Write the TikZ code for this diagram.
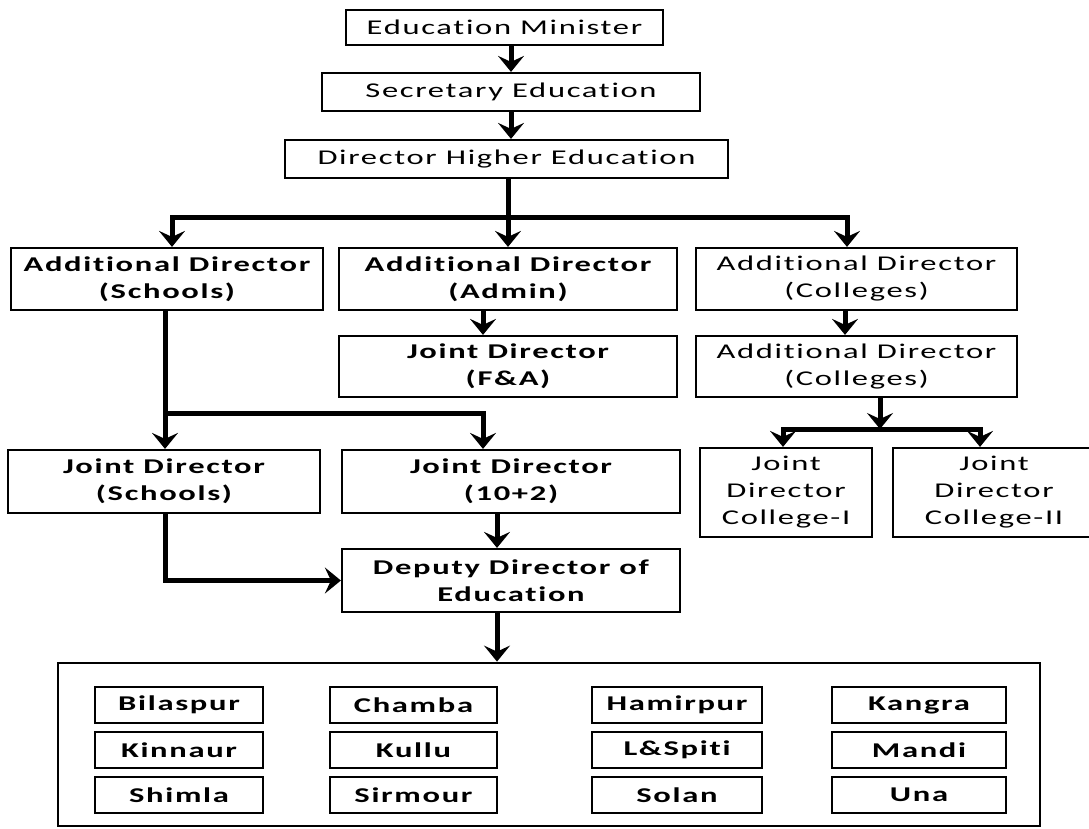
\documentclass[tikz,border=0pt]{standalone}
\usepackage{fontspec}
\setmainfont{Carlito}[FakeStretch=1.55,LetterSpace=8,Ligatures=NoCommon]
\usetikzlibrary{arrows.meta,calc}

\tikzset{
  box/.style={draw, line width=2.2pt, inner sep=0pt, align=center,
    font=\fontsize{21}{27}\selectfont},
  boxb/.style={box, font=\fontsize{21}{27}\selectfont\bfseries},
  dist/.style={boxb, line width=2.4pt, minimum height=36pt},
  conn/.style={line width=5pt},
  tip/.tip={Stealth[length=16pt,width=26pt,inset=6pt]},
  arr/.style={conn, -tip},
  arr2/.style={conn, tip-tip}
}

\begin{document}
\begin{tikzpicture}[x=1pt,y=-1pt]
\useasboundingbox (0,0) rectangle (1089,828);

% top of the hierarchy
\node[box, minimum width=317pt, minimum height=35pt] (em)  at (504.5,27.5) {Education Minister};
\node[box, minimum width=378pt, minimum height=38pt] (se)  at (511,92)     {Secretary Education};
\node[box, minimum width=443pt, minimum height=38pt] (dhe) at (506.5,159)  {Director Higher Education};

% additional directors
\node[boxb, minimum width=312pt, minimum height=62pt] (ads) at (167,279)   {Additional Director\\(Schools)};
\node[boxb, minimum width=338pt, minimum height=62pt] (ada) at (508,279)   {Additional Director\\(Admin)};
\node[box,  minimum width=321pt, minimum height=62pt] (adc) at (856.5,279) {Additional Director\\(Colleges)};

\node[boxb, minimum width=338pt, minimum height=61pt] (jdfa) at (508,366.5)   {Joint Director\\(F\&A)};
\node[box,  minimum width=321pt, minimum height=61pt] (adc2) at (856.5,366.5) {Additional Director\\(Colleges)};

% joint directors
\node[boxb, minimum width=312pt, minimum height=63pt] (jds)  at (164,481.5) {Joint Director\\(Schools)};
\node[boxb, minimum width=338pt, minimum height=63pt] (jd12) at (511,481.5) {Joint Director\\(10+2)};
\node[box,  minimum width=172pt, minimum height=89pt] (jdc1) at (786,492.5) {Joint\\Director\\College-I};
\node[box,  minimum width=202pt, minimum height=89pt] (jdc2) at (994,492.5) {Joint\\Director\\College-II};

\node[boxb, minimum width=338pt, minimum height=63pt] (dd) at (511,580.5) {Deputy Director of\\Education};

% districts
\node[draw, line width=2.8pt, minimum width=982pt, minimum height=163pt, inner sep=0pt] (dist) at (549,744.5) {};
\node[dist, minimum width=168pt] (bil) at (179,705)   {Bilaspur};
\node[dist, minimum width=168pt] (kin) at (179,750)   {Kinnaur};
\node[dist, minimum width=168pt] (shi) at (179,795)   {Shimla};
\node[dist, minimum width=167pt] (cha) at (413.5,705) {Chamba};
\node[dist, minimum width=167pt] (kul) at (413.5,750) {Kullu};
\node[dist, minimum width=167pt] (sir) at (413.5,795) {Sirmour};
\node[dist, minimum width=170pt] (ham) at (677,705)   {Hamirpur};
\node[dist, minimum width=170pt] (las) at (677,750)   {L\&Spiti};
\node[dist, minimum width=170pt] (sol) at (677,795)   {Solan};
\node[dist, minimum width=174pt] (kan) at (919,705)   {Kangra};
\node[dist, minimum width=174pt] (man) at (919,750)   {Mandi};
\node[dist, minimum width=174pt] (una) at (919,795)   {Una};

% junction points of the connectors
\coordinate (busL) at (172,217);
\coordinate (busR) at (847,217);
\coordinate (xs) at (165,0);
\coordinate (xa) at (483,0);
\coordinate (xc) at (845,0);
\coordinate (xd) at (497,0);
\coordinate (j2) at (165,413);
\coordinate (xk) at (880,429);
\coordinate (kL) at (783,429);
\coordinate (kR) at (980,429);

% connectors
\draw[arr] (se.north |- em.south) -- (se.north);
\draw[arr] (se.south) -- (se.south |- dhe.north);
\draw[arr] (ada.north |- dhe.south) -- (ada.north);
\draw[arr2] (busL |- ads.north) -- (busL) -- (busR) -- (busR |- adc.north);

\draw[arr] (ada.south -| xa) -- (jdfa.north -| xa);
\draw[arr] (adc.south -| xc) -- (adc2.north -| xc);

\draw[arr] (ads.south -| xs) -- (jds.north -| xs);
\draw[arr] (j2) -- (j2 -| xa) -- (jd12.north -| xa);

\draw[arr] (adc2.south -| xk) -- (xk);
\draw[arr2] (jdc1.north -| kL) -- (kL) -- (kR) -- (jdc2.north -| kR);

\draw[arr] (jds.south -| xs) |- (dd.west);
\draw[arr] (jd12.south -| xd) -- (dd.north -| xd);
\draw[arr] (dd.south -| xd) -- (dist.north -| xd);
\end{tikzpicture}
\end{document}
